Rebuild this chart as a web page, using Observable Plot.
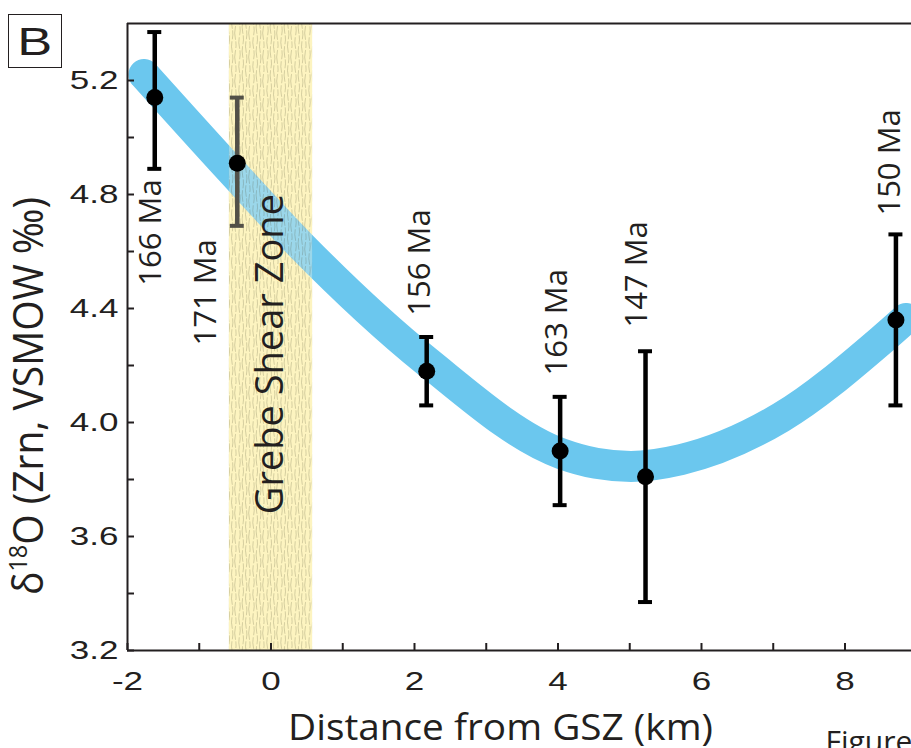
<!DOCTYPE html>
<html>
<head>
<meta charset="utf-8">
<script src="https://cdn.jsdelivr.net/npm/d3@7"></script>
<script src="https://cdn.jsdelivr.net/npm/@observablehq/plot@0.6"></script>
<style>
  html, body { margin: 0; padding: 0; background: #fff; overflow: hidden; }
  #wrap { position: relative; width: 911px; height: 748px; overflow: hidden; }
  #panel {
    position: absolute; left: 8px; top: 14px; width: 52px; height: 52px;
    border: 1.6px solid #231f20; box-sizing: content-box; background: #fff;
    font-family: "Liberation Sans", sans-serif; font-size: 38px; color: #231f20;
    display: flex; align-items: center; justify-content: center;
  }
  #panel span { display: inline-block; transform: scaleX(1.38); line-height: 1; margin-top: 1px; }
</style>
</head>
<body>
<div id="wrap"></div>
<script>
// Zircon δ18O samples across the Grebe Shear Zone
const distanceKm = [-1.62, -0.47, 2.17, 4.03, 5.22, 8.71];
const d18O       = [5.14, 4.91, 4.18, 3.90, 3.81, 4.36];
const errLow     = [4.89, 4.69, 4.06, 3.71, 3.37, 4.06];
const errHigh    = [5.37, 5.14, 4.30, 4.09, 4.25, 4.66];
const ages       = ["166 Ma", "171 Ma", "156 Ma", "163 Ma", "147 Ma", "150 Ma"];
// where each age label starts (data units)
const ageLabelX  = [-1.67, -0.91, 2.08, 3.99, 5.10, 8.63];
const ageLabelY  = [4.48, 4.27, 4.375, 4.165, 4.333, 4.726];

// hand-drawn trend through the samples
const trendX = [-1.77, -0.557, 0.418, 2.188, 4.042, 4.53, 5.017, 5.714, 7.108, 8.502, 8.85];
const trendY = [5.221, 4.884, 4.621, 4.211, 3.891, 3.857, 3.846, 3.870, 4.018, 4.288, 4.365];

// extent of the shear zone (km)
const shearZone = [-0.58, 0.58];
const shearZoneLabelY = 4.24;

const xDomain = [-2, 8.927];
const yDomain = [3.2, 5.4];
const xTicks  = [-2, -1, 0, 1, 2, 3, 4, 5, 6, 7, 8];
const xLabels = [-2, 0, 2, 4, 6, 8];
const yTicks  = [3.2, 3.4, 3.6, 3.8, 4.0, 4.2, 4.4, 4.6, 4.8, 5.0, 5.2];
const yLabels = [3.2, 3.6, 4.0, 4.4, 4.8, 5.2];

const yTitle = "δ18O (Zrn, VSMOW ‰)";
const xTitle = "Distance from GSZ (km)";

const ink = "#231f20";
const capHalf = 0.0975;

const samples = distanceKm.map((x, i) => ({
  x, y: d18O[i], lo: errLow[i], hi: errHigh[i], age: ages[i], lx: ageLabelX[i], ly: ageLabelY[i]
}));
const trend = trendX.map((x, i) => ({x, y: trendY[i]}));
const zone = [{x1: shearZone[0], x2: shearZone[1]}];
const tickFont = "'Liberation Sans', Arial, sans-serif";

const plot = Plot.plot({
  width: 911,
  height: 748,
  marginLeft: 127,
  marginRight: 0,
  marginTop: 23,
  marginBottom: 98,
  x: {domain: xDomain, label: null},
  y: {domain: yDomain, label: null},
  style: {fontFamily: "'Open Sans', sans-serif", color: ink, background: "#fff", overflow: "visible"},
  marks: [
    // shear zone base
    Plot.rect(zone, {x1: "x1", x2: "x2", fill: "#fcf2b0"}),
    // trend band
    Plot.line(trend, {x: "x", y: "y", curve: "monotone-x", stroke: "#6bc7ee", strokeWidth: 31,
      strokeLinecap: "round", strokeLinejoin: "round"}),
    // error bars
    Plot.ruleX(samples, {x: "x", y1: "lo", y2: "hi", stroke: "#000", strokeWidth: 4.5}),
    Plot.ruleY(samples, {y: "hi", x1: d => d.x - capHalf, x2: d => d.x + capHalf, stroke: "#000", strokeWidth: 4}),
    Plot.ruleY(samples, {y: "lo", x1: d => d.x - capHalf, x2: d => d.x + capHalf, stroke: "#000", strokeWidth: 4}),
    // textured veil of the shear zone
    Plot.rect(zone, {x1: "x1", x2: "x2", fill: "url(#gszTexture)"}),
    Plot.text(["Grebe Shear Zone"], {x: () => (shearZone[0] + shearZone[1]) / 2, y: () => shearZoneLabelY,
      rotate: -90, fontSize: 38, fill: ink}),
    // samples
    Plot.dot(samples, {x: "x", y: "y", r: 8.5, fill: "#000", stroke: null}),
    Plot.text(samples, {x: "lx", y: "ly", text: "age", rotate: -90, textAnchor: "start", fontSize: 31, fill: ink}),
    // frame
    Plot.ruleY([yDomain[1]], {stroke: ink, strokeWidth: 2}),
    Plot.ruleY([yDomain[0]], {stroke: ink, strokeWidth: 2}),
    Plot.ruleX([xDomain[0]], {stroke: ink, strokeWidth: 2}),
    // axes: inward ticks, then numerals
    Plot.axisY(yTicks, {tickSize: -7, strokeWidth: 2, fill: "none", label: null}),
    Plot.axisY(yLabels, {tickSize: 0, tickPadding: 9, fontSize: 25, fontFamily: tickFont,
      tickFormat: d3.format(".1f"), label: null}),
    Plot.axisX(xTicks, {tickSize: -7, strokeWidth: 2, fill: "none", label: null}),
    Plot.axisX(xLabels, {tickSize: 0, tickPadding: 22, fontSize: 25, fontFamily: tickFont,
      tickFormat: d => (d < 0 ? "-" : "") + Math.abs(d), label: null}),
    // axis titles
    Plot.text([yTitle], {frameAnchor: "left", textAnchor: "middle", lineAnchor: "middle",
      dx: -98, dy: 59, rotate: -90, fontSize: 42, fill: ink}),
    Plot.text([xTitle], {frameAnchor: "bottom", textAnchor: "middle", lineAnchor: "top",
      dx: -19, dy: 63, fontSize: 37, fill: ink}),
    Plot.text(["Figure"], {frameAnchor: "bottom-right", textAnchor: "start", lineAnchor: "top",
      dx: -86, dy: 80, fontSize: 30, fill: ink})
  ]
});

const wrap = document.getElementById("wrap");
wrap.append(plot);
const panel = document.createElement("div");
panel.id = "panel";
panel.innerHTML = "<span>B</span>";
wrap.append(panel);

const svg = d3.select(plot);

// wavy fabric texture for the shear zone
const defs = svg.insert("defs", ":first-child");
const pat = defs.append("pattern").attr("id", "gszTexture").attr("patternUnits", "userSpaceOnUse")
  .attr("width", 14).attr("height", 24);
pat.append("rect").attr("width", 14).attr("height", 24).attr("fill", "#fffbe5").attr("fill-opacity", 0.32);
const waves = [[1.5, 0], [4.8, 9], [8.2, 4], [11.4, 15]];
for (const [x0, off] of waves) {
  pat.append("path")
    .attr("d", `M${x0},-24 Q${x0 + 1.4},-18 ${x0},-12 T${x0},0 T${x0},12 T${x0},24 T${x0},36`)
    .attr("transform", `translate(0,${off})`)
    .attr("fill", "none").attr("stroke", "#4d482c").attr("stroke-opacity", 0.36)
    .attr("stroke-width", 0.65).attr("stroke-dasharray", "9 2 14 1.5");
}

const texts = svg.selectAll("text");

// wide tick numerals
texts.filter(function () { return /^-?\d(\.\d)?$/.test(this.textContent); }).each(function () {
  const len = this.getComputedTextLength();
  this.setAttribute("textLength", len * 1.4);
  this.setAttribute("lengthAdjust", "spacingAndGlyphs");
});

// superscript isotope mass in the y title
const yt = texts.filter(function () { return this.textContent === yTitle; });
yt.text(null);
yt.append("tspan").text("δ");
yt.append("tspan").attr("font-size", "0.6em").attr("dy", "-0.62em").text("18");
yt.append("tspan").attr("dy", "0.372em").text("O (Zrn, VSMOW ‰)");
yt.attr("textLength", 398).attr("lengthAdjust", "spacingAndGlyphs");

texts.filter(function () { return this.textContent === xTitle; })
  .attr("textLength", 425).attr("lengthAdjust", "spacingAndGlyphs");
</script>
</body>
</html>
